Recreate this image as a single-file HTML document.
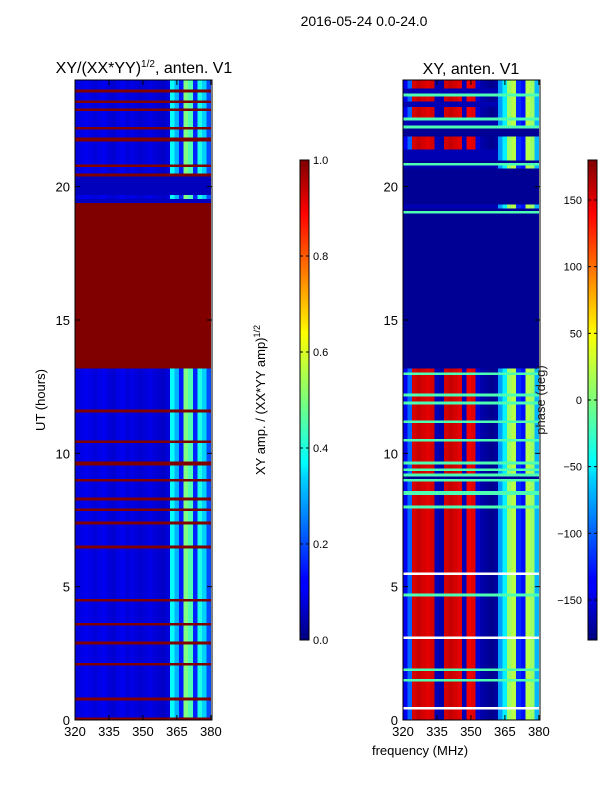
<!DOCTYPE html>
<html><head><meta charset="utf-8"><style>
body{margin:0;background:#fff;font-family:"Liberation Sans",sans-serif;}
svg text{font-family:"Liberation Sans",sans-serif;}
</style></head><body>
<svg id="fig" width="600" height="800" xmlns="http://www.w3.org/2000/svg">
<defs>
<linearGradient id="jetv" x1="0" y1="1" x2="0" y2="0">
<stop offset="0" stop-color="#00007f"/><stop offset="0.11" stop-color="#0000ff"/><stop offset="0.125" stop-color="#0000ff"/>
<stop offset="0.34" stop-color="#00d4ff"/><stop offset="0.37" stop-color="#0ff"/><stop offset="0.5" stop-color="#7dff7a"/>
<stop offset="0.64" stop-color="#ff0"/><stop offset="0.66" stop-color="#ffe600"/><stop offset="0.89" stop-color="#ff0000"/><stop offset="1" stop-color="#7f0000"/>
</linearGradient>
</defs>
<text x="364" y="26" font-size="14" text-anchor="middle">2016-05-24 0.0-24.0</text>
<g id="left"></g>
<g id="right"></g>
<text x="144" y="73" font-size="16" text-anchor="middle">XY/(XX*YY)<tspan font-size="10" dy="-6">1/2</tspan><tspan dy="6">, anten. V1</tspan></text>
<text x="471" y="74" font-size="16" text-anchor="middle">XY, anten. V1</text>
<text transform="translate(45,400) rotate(-90)" font-size="13" text-anchor="middle">UT (hours)</text>
<text x="420" y="755" font-size="13" text-anchor="middle">frequency (MHz)</text>
<text transform="translate(265,400) rotate(-90)" font-size="13" text-anchor="middle">XY amp. / (XX*YY amp)<tspan font-size="9" dy="-5">1/2</tspan></text>
<text transform="translate(545,400) rotate(-90)" font-size="13" text-anchor="middle" fill="#222">phase (deg)</text>
<rect x="300" y="160" width="9" height="480" fill="url(#jetv)" stroke="#000" stroke-width="1"/>
<rect x="588" y="160" width="9" height="480" fill="url(#jetv)" stroke="#000" stroke-width="1"/>
<g id="cb" font-size="11"></g>
</svg>
<script>
// frequency channels (MHz, left edges, 2 MHz wide)
const freqs=[320,322,324,326,328,330,332,334,336,338,340,342,344,346,348,350,352,354,356,358,360,362,364,366,368,370,372,374,376,378];
// left panel: normalized amplitude per channel
const ampProfile=[0.09,0.1,0.11,0.1,0.09,0.1,0.11,0.09,0.08,0.1,0.11,0.09,0.1,0.09,0.08,0.09,0.1,0.09,0.08,0.07,0.09,0.38,0.3,0.15,0.5,0.45,0.16,0.4,0.33,0.2];
// right panel: phase per channel (deg)
const phaseProfile=[-140,-100,150,155,150,145,150,-160,-165,150,155,150,145,-160,140,145,-150,-165,-170,-175,-170,-80,-50,10,20,-120,-130,20,10,-70];
// rows: [startHour, endHour, kind]  n=normal, m=mostly dark, r=red, d=dark, g=green line, w=white line
const leftRows=[[0,0.1,'r'],[0.1,0.75,'n'],[0.75,0.85,'r'],[0.85,2.05,'n'],[2.05,2.15,'r'],[2.15,2.85,'n'],[2.85,2.95,'r'],[2.95,3.55,'n'],[3.55,3.65,'r'],[3.65,4.45,'n'],[4.45,4.55,'r'],[4.55,6.45,'n'],[6.45,6.55,'r'],[6.55,7.35,'n'],[7.35,7.45,'r'],[7.45,7.85,'n'],[7.85,7.95,'r'],[7.95,8.25,'n'],[8.25,8.35,'r'],[8.35,8.95,'n'],[8.95,9.05,'r'],[9.05,9.55,'n'],[9.55,9.7,'r'],[9.7,10.4,'n'],[10.4,10.5,'r'],[10.5,11.55,'n'],[11.55,11.65,'r'],[11.65,13.2,'n'],[13.2,19.4,'r'],[19.4,19.55,'d'],[19.55,19.7,'n'],[19.7,20.4,'d'],[20.4,20.5,'r'],[20.5,20.75,'n'],[20.75,20.85,'r'],[20.85,21.7,'n'],[21.7,21.85,'r'],[21.85,22.15,'n'],[22.15,22.25,'r'],[22.25,22.85,'n'],[22.85,22.95,'r'],[22.95,23.15,'n'],[23.15,23.25,'r'],[23.25,23.55,'n'],[23.55,23.65,'r'],[23.65,24,'n']];
const rightRows=[[0,0.4,'n'],[0.4,0.5,'w'],[0.5,1.45,'n'],[1.45,1.55,'g'],[1.55,1.85,'n'],[1.85,1.95,'g'],[1.95,3.05,'n'],[3.05,3.15,'w'],[3.15,4.65,'n'],[4.65,4.75,'g'],[4.75,5.45,'n'],[5.45,5.55,'w'],[5.55,7.95,'n'],[7.95,8.05,'g'],[8.05,8.45,'n'],[8.45,8.6,'g'],[8.6,8.95,'n'],[8.95,9.05,'g'],[9.05,9.15,'d'],[9.15,9.25,'g'],[9.25,9.35,'n'],[9.35,9.45,'g'],[9.45,9.6,'n'],[9.6,9.7,'g'],[9.7,10.45,'n'],[10.45,10.55,'g'],[10.55,11.15,'n'],[11.15,11.25,'g'],[11.25,11.85,'n'],[11.85,11.95,'g'],[11.95,12.15,'n'],[12.15,12.25,'g'],[12.25,12.95,'n'],[12.95,13.05,'g'],[13.05,13.2,'n'],[13.2,19.0,'d'],[19.0,19.1,'g'],[19.1,19.2,'d'],[19.2,19.35,'m'],[19.35,20.7,'d'],[20.7,20.8,'m'],[20.8,20.9,'g'],[20.9,21.0,'d'],[21.0,21.4,'m'],[21.4,21.9,'n'],[21.9,22.2,'d'],[22.2,22.3,'g'],[22.3,22.5,'m'],[22.5,22.6,'g'],[22.6,23.0,'n'],[23.0,23.2,'m'],[23.2,23.4,'n'],[23.4,23.5,'g'],[23.5,23.7,'m'],[23.7,24,'n']];
const yTicks=[0,5,10,15,20];
const xTicks=[320,335,350,365,380];
const ampTicks=[0,0.2,0.4,0.6,0.8,1.0];
const phaseTicks=[-150,-100,-50,0,50,100,150];

const NS="http://www.w3.org/2000/svg";
function el(t,a,p){const e=document.createElementNS(NS,t);for(const k in a)e.setAttribute(k,a[k]);p.appendChild(e);return e;}
function jet(t){t=Math.max(0,Math.min(1,t));const c=v=>Math.round(255*Math.max(0,Math.min(1,v)));
return `rgb(${c(1.5-Math.abs(4*t-3))},${c(1.5-Math.abs(4*t-2))},${c(1.5-Math.abs(4*t-1))})`;}
const PT=80,PB=720,PW=137,FMIN=320,FMAX=380.5;
function yS(h){return PB-(h/24)*(PB-PT);}
function panel(g,x0,rows,valFn){
  for(const [a,b,k] of rows){
    for(let i=0;i<freqs.length;i++){
      const f0=freqs[i],f1=Math.min(f0+2,FMAX);
      const xa=x0+(f0-FMIN)/(FMAX-FMIN)*PW, xb=x0+(f1-FMIN)/(FMAX-FMIN)*PW;
      const r=el('rect',{x:xa,y:yS(b),width:xb-xa+0.3,height:yS(a)-yS(b)+0.3,fill:valFn(i,k),'shape-rendering':'crispEdges'},g);
      
      
    }
  }
  el('rect',{x:x0,y:PT,width:PW,height:PB-PT,fill:'none',stroke:'#000','stroke-width':1},g);
  for(const t of yTicks){const y=yS(t);
    el('line',{x1:x0,x2:x0+5,y1:y,y2:y,stroke:'#000'},g);el('line',{x1:x0+PW-5,x2:x0+PW,y1:y,y2:y,stroke:'#000'},g);
    const tx=el('text',{x:x0-5,y:y+5,'font-size':13,'text-anchor':'end'},g);tx.textContent=t;
    
    }
  for(const t of xTicks){const x=x0+(t-FMIN)/(FMAX-FMIN)*PW;
    el('line',{x1:x,x2:x,y1:PB,y2:PB-5,stroke:'#000'},g);el('line',{x1:x,x2:x,y1:PT,y2:PT+5,stroke:'#000'},g);
    const tx=el('text',{x:x,y:PB+16,'font-size':13,'text-anchor':'middle'},g);tx.textContent=t;
    
    }
}
panel(document.getElementById('left'),75,leftRows,(i,k)=>{
  if(k==='r')return jet(1);
  if(k==='d')return jet(0.06);
  return jet(ampProfile[i]);
});
panel(document.getElementById('right'),403,rightRows,(i,k)=>{
  if(k==='d')return jet(0.02);
  if(k==='g')return jet(0.45);
  if(k==='w')return '#ffffff';
  if(k==='m')return freqs[i]>=362?jet((phaseProfile[i]+180)/360):jet(0.05);
  return jet((phaseProfile[i]+180)/360);
});
const cb=document.getElementById('cb');
for(const v of ampTicks){const y=640-v*480;
  el('line',{x1:300,x2:303,y1:y,y2:y,stroke:'#000'},cb);el('line',{x1:306,x2:309,y1:y,y2:y,stroke:'#000'},cb);
  const t=el('text',{x:313,y:y+4},cb);t.textContent=v.toFixed(1);
  
  }
for(const v of phaseTicks){const y=640-(v+180)/360*480;
  el('line',{x1:588,x2:591,y1:y,y2:y,stroke:'#000'},cb);el('line',{x1:594,x2:597,y1:y,y2:y,stroke:'#000'},cb);
  const t=el('text',{x:582,y:y+4,'text-anchor':'end'},cb);t.textContent=v===0?'0':(v<0?'\u2212'+(-v):v);
  
  }
</script>
</body></html>
